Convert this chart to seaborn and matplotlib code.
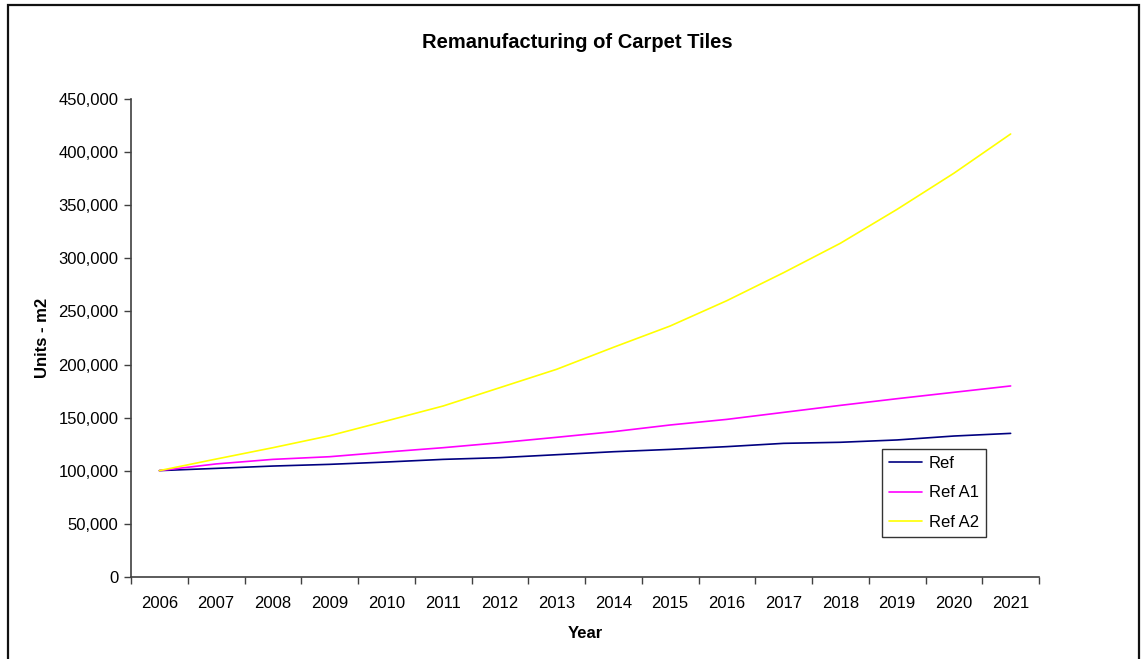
import numpy as np
import pandas as pd
import matplotlib
matplotlib.use("Agg")
import matplotlib.pyplot as plt
import matplotlib.ticker as mticker
from matplotlib.patches import Rectangle
import seaborn as sns

# data
years = list(range(2006, 2022))
ref = [100000, 102100, 104300, 105900, 108100, 110600, 112200, 115000,
       117800, 120000, 122600, 125700, 126700, 128900, 132600, 135100]
ref_a1 = [100000, 106300, 110600, 113100, 117500, 121600, 126300, 131400,
          136700, 143000, 148300, 154900, 161500, 167800, 173800, 179800]
ref_a2 = [100000, 110900, 121600, 132900, 146800, 160900, 178200, 195500,
          216200, 236300, 260200, 286600, 314300, 346300, 380300, 417300]
series_names = ["Ref", "Ref A1", "Ref A2"]
colors = ["#000080", "#FF00FF", "#FFFF00"]

df = pd.DataFrame({"Year": years * 3,
                   "Units": ref + ref_a1 + ref_a2,
                   "Series": [n for n in series_names for _ in years]})

sns.set_style("white")
plt.rcParams["font.family"] = ["Liberation Sans", "DejaVu Sans"]
plt.rcParams["text.color"] = "black"
plt.rcParams["axes.labelcolor"] = "black"
plt.rcParams["xtick.color"] = "black"
plt.rcParams["ytick.color"] = "black"

fig = plt.figure(figsize=(11.42, 6.59), dpi=100)
ax = fig.add_axes([131 / 1142, 1 - 576.7 / 659, 908 / 1142, 477.4 / 659])

sns.lineplot(data=df, x="Year", y="Units", hue="Series", palette=colors,
             hue_order=series_names, linewidth=1.2, ax=ax)

# category style x axis: ticks between years, labels centered
ax.set_xlim(years[0] - 0.5, years[-1] + 0.5)
ax.set_xticks([y - 0.5 for y in years] + [years[-1] + 0.5])
ax.set_xticklabels([])
ax.set_xticks(years, minor=True)
ax.set_xticklabels([str(y) for y in years], minor=True, fontsize=12)
ax.tick_params(axis="x", which="major", direction="out", length=5, width=1, color="#404040", bottom=True)
ax.tick_params(axis="x", which="minor", length=0, pad=14)

ax.set_ylim(0, 450000)
ax.set_yticks(np.arange(0, 450001, 50000))
ax.yaxis.set_major_formatter(mticker.FuncFormatter(lambda v, p: f"{int(v):,}"))
ax.tick_params(axis="y", direction="out", length=5, width=1, color="#404040", left=True, labelsize=12, pad=4)

for s in ["top", "right"]:
    ax.spines[s].set_visible(False)
for s in ["left", "bottom"]:
    ax.spines[s].set_color("#404040")
    ax.spines[s].set_linewidth(1.2)

ax.set_xlabel("Year", fontsize=12, fontweight="bold", labelpad=11)
ax.set_ylabel("Units - m2", fontsize=12, fontweight="bold", labelpad=6)

fig.text(577 / 1142, 1 - 42 / 659, "Remanufacturing of Carpet Tiles",
         ha="center", va="center", fontsize=14.5, fontweight="bold")

leg = ax.legend(loc="lower left", bbox_to_anchor=(0.827, 0.083), fontsize=12,
                frameon=True, fancybox=False, borderaxespad=0, handlelength=1.95,
                handletextpad=0.4, labelspacing=0.85, borderpad=0.45)
leg.get_frame().set_edgecolor("black")
leg.get_frame().set_linewidth(1.0)

# outer chart border
fig.patches.append(Rectangle((8 / 1142, -0.05), 1131 / 1142, 1.05 - 5 / 659,
                             transform=fig.transFigure, fill=False,
                             edgecolor="#111111", linewidth=1.6))

fig.savefig("out.png", dpi=100)
